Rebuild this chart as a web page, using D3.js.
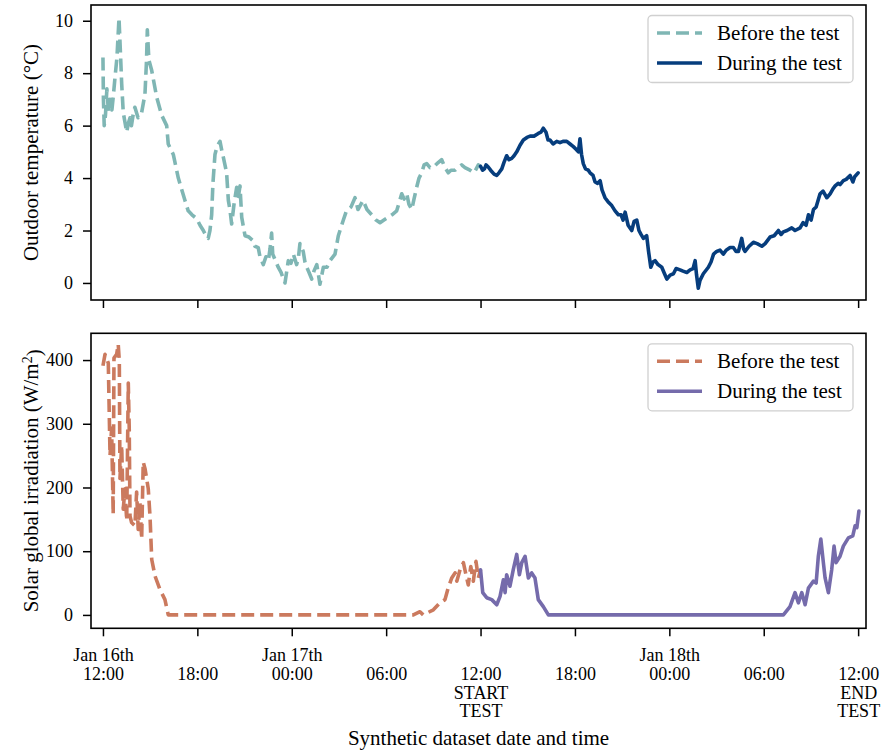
<!DOCTYPE html>
<html>
<head>
<meta charset="utf-8">
<script src="https://cdn.jsdelivr.net/npm/d3@7"></script>
<style>
  html, body { margin: 0; padding: 0; background: #fff; }
  text { font-family: "Liberation Serif", "Times New Roman", "DejaVu Serif", serif; fill: #000; }
</style>
</head>
<body>
<svg id="chart" width="883" height="754"></svg>
<script>
// ---------- DATA (hours since Jan 16th 12:00) ----------
const tempBeforeT = [0.00,0.03,0.08,0.16,0.25,0.35,0.45,0.57,0.67,0.76,0.89,1.02,1.11,1.19,1.29,1.51,1.62,1.72,1.81,1.94,2.03,2.23,2.46,2.67,2.77,2.82,2.92,3.10,3.41,3.73,4.05,4.15,4.47,4.79,5.21,5.42,5.66,5.96,6.17,6.38,6.55,6.69,6.80,6.91,6.99,7.12,7.25,7.44,7.57,7.65,7.86,7.97,8.07,8.18,8.33,8.50,8.61,8.71,8.82,9.03,9.28,9.56,9.66,9.87,9.98,10.19,10.36,10.51,10.62,10.72,10.79,10.93,11.14,11.32,11.57,11.78,11.95,12.10,12.31,12.43,12.52,12.73,12.84,12.95,13.10,13.27,13.41,13.59,13.70,13.79,14.01,14.24,14.43,14.75,14.96,15.28,15.45,15.58,15.77,16.02,16.21,16.53,16.78,17.08,17.36,17.61,17.86,18.12,18.37,18.67,18.99,19.14,19.31,19.45,19.63,19.77,19.94,20.09,20.26,20.41,20.58,20.79,21.00,21.23,21.53,21.74,21.95,22.12,22.38,22.57,22.80,23.01,23.33,23.59,23.86,24.00];
const tempBeforeV = [8.6,7.0,6.0,6.4,7.4,6.5,7.0,6.6,7.2,7.8,8.6,10.1,8.8,7.6,6.5,5.75,6.1,6.3,6.0,6.5,6.7,6.3,6.5,7.2,8.5,9.65,8.5,8.1,7.1,6.4,6.0,5.3,4.9,4.0,3.15,2.75,2.6,2.45,2.2,2.0,1.8,1.7,2.0,2.6,3.8,4.9,5.2,5.4,5.0,4.8,4.2,3.15,2.8,2.25,3.0,3.65,3.3,3.7,2.5,1.8,1.75,1.6,1.4,1.35,1.0,0.7,1.0,0.85,1.3,1.9,1.1,0.9,0.6,0.4,0.0,0.85,0.75,1.1,0.7,1.0,1.5,1.2,0.8,0.6,0.4,0.15,0.45,0.7,0.3,-0.05,0.6,0.6,0.85,1.1,1.8,2.4,2.7,2.8,2.9,3.25,2.8,3.15,2.8,2.6,2.4,2.3,2.4,2.5,2.6,2.75,3.4,3.2,3.4,3.0,2.8,3.2,3.65,4.0,4.2,4.5,4.55,4.4,4.4,4.55,4.7,4.4,4.2,4.3,4.3,4.4,4.5,4.4,4.3,4.2,4.5,4.45];

const tempDuringT = [24.00,24.13,24.25,24.35,24.45,24.64,24.86,25.03,25.17,25.35,25.49,25.66,25.81,25.98,26.13,26.30,26.51,26.72,26.95,27.15,27.40,27.67,27.84,27.99,28.16,28.29,28.42,28.61,28.84,29.05,29.24,29.48,29.69,29.90,30.07,30.22,30.32,30.42,30.53,30.67,30.85,30.96,31.15,31.28,31.44,31.60,31.72,31.91,32.10,32.34,32.55,32.76,32.93,33.06,33.19,33.38,33.61,33.76,33.93,34.07,34.20,34.35,34.56,34.68,34.82,34.96,35.09,35.28,35.52,35.66,35.84,36.05,36.26,36.43,36.68,36.87,37.11,37.32,37.51,37.64,37.73,37.84,37.95,38.16,38.48,38.65,38.81,39.01,39.22,39.43,39.61,39.86,40.07,40.24,40.39,40.60,40.72,40.81,41.07,41.34,41.58,41.88,42.09,42.40,42.66,42.93,43.10,43.25,43.48,43.78,43.99,44.31,44.50,44.69,44.84,45.01,45.16,45.33,45.58,45.77,46.01,46.22,46.41,46.54,46.73,46.85,47.06,47.24,47.49,47.67,47.78,48.00];
const tempDuringV = [4.45,4.3,4.35,4.5,4.45,4.3,4.15,4.1,4.2,4.35,4.6,4.85,4.7,4.75,4.85,5.0,5.25,5.45,5.55,5.6,5.6,5.7,5.75,5.9,5.75,5.45,5.45,5.3,5.4,5.35,5.4,5.4,5.3,5.2,5.1,5.0,5.5,4.9,4.55,4.35,4.3,4.2,4.1,3.85,3.8,3.9,3.55,3.25,3.1,2.95,2.75,2.6,2.6,2.4,2.7,2.2,2.0,2.35,2.4,2.0,1.85,1.7,1.8,1.2,0.6,0.8,0.85,0.7,0.6,0.4,0.15,0.3,0.35,0.55,0.5,0.45,0.4,0.5,0.55,0.85,0.3,-0.2,0.1,0.35,0.6,0.8,1.1,1.2,1.25,1.1,1.25,1.35,1.35,1.2,1.2,1.7,1.3,1.2,1.4,1.55,1.5,1.4,1.5,1.75,1.8,2.0,1.85,1.95,2.0,2.1,2.0,2.1,2.3,2.2,2.6,2.4,2.8,2.9,3.4,3.5,3.25,3.4,3.6,3.7,3.8,3.75,3.9,3.95,4.1,3.85,4.05,4.2];

const irrBeforeT = [0.00,0.13,0.34,0.45,0.55,0.65,0.70,0.87,0.97,1.04,1.08,1.19,1.29,1.40,1.51,1.61,1.67,1.72,1.82,2.03,2.14,2.24,2.35,2.46,2.56,2.67,2.88,2.99,3.10,3.31,3.62,3.94,4.15,19.73,20.15,20.36,21.00,21.42,21.74,21.95,22.17,22.38,22.49,22.70,22.91,23.12,23.22,23.38,23.54,23.71,23.86,24.00];
const irrBeforeV = [391,409,395,250,293,158,403,409,425,398,214,266,166,198,148,364,293,155,145,140,193,134,177,119,240,230,198,155,87,61,40,24,0,0,5,0,8,19,24,43,58,66,53,71,82,58,47,76,53,84,58,71];

const irrDuringT = [24.00,24.14,24.39,24.71,25.03,25.24,25.45,25.56,25.66,25.87,26.08,26.30,26.47,26.62,26.83,27.04,27.25,27.46,27.67,27.99,28.31,43.25,43.67,43.99,44.20,44.42,44.63,44.84,45.16,45.33,45.47,45.63,45.79,45.90,46.11,46.32,46.47,46.60,46.85,47.06,47.38,47.66,47.81,47.92,48.05];
const irrDuringV = [71,35,27,24,16,29,55,35,63,45,71,95,63,82,92,58,66,58,24,13,0,0,13,35,19,35,16,42,53,50,92,119,82,58,35,71,108,82,92,108,121,124,140,137,163];

const xTickHours = [0,6,12,18,24,30,36,42,48];
const xTickLabels = [["Jan 16th","12:00"],["","18:00"],["Jan 17th","00:00"],["","06:00"],["","12:00","START","TEST"],["","18:00"],["Jan 18th","00:00"],["","06:00"],["","12:00","END","TEST"]];
const tempTicks = [0,2,4,6,8,10];
const irrTicks = [0,100,200,300,400];
const legendLabels = ["Before the test","During the test"];

// ---------- LAYOUT ----------
const svg = d3.select("#chart");
const L = 91, R = 866;
const panels = [
  {top: 5, bottom: 300, domain: [-0.65, 10.6], ticks: tempTicks,
   series: [
     {t: tempBeforeT, v: tempBeforeV, color: "#7fb6b4", dash: "13,6"},
     {t: tempDuringT, v: tempDuringV, color: "#063d7d", dash: null}
   ]},
  {top: 333.3, bottom: 628.3, domain: [-21, 442], ticks: irrTicks,
   series: [
     {t: irrBeforeT, v: irrBeforeV, color: "#cb7a5e", dash: "13,6"},
     {t: irrDuringT, v: irrDuringV, color: "#756bab", dash: null}
   ]}
];

const x = d3.scaleLinear().domain([-0.76, 48.5]).range([L, R]);

panels.forEach((p, pi) => {
  const y = d3.scaleLinear().domain(p.domain).range([p.bottom, p.top]);
  const g = svg.append("g");

  // lines
  p.series.forEach(s => {
    const pts = s.t.map((t, i) => [t, s.v[i]]);
    const line = d3.line().x(d => x(d[0])).y(d => y(d[1]));
    g.append("path").datum(pts)
      .attr("d", line)
      .attr("fill", "none")
      .attr("stroke", s.color)
      .attr("stroke-width", 3.6)
      .attr("stroke-linejoin", "round")
      .attr("stroke-linecap", s.dash ? "butt" : "round")
      .attr("stroke-dasharray", s.dash);
  });

  // y axis
  const ya = g.append("g").attr("transform", `translate(${L},0)`)
    .call(d3.axisLeft(y).tickValues(p.ticks).tickSize(8).tickPadding(10).tickFormat(d3.format("d")));
  ya.select(".domain").remove();
  ya.selectAll(".tick line").attr("stroke", "#000").attr("stroke-width", 1.5);
  ya.selectAll(".tick text").attr("font-size", 18).attr("font-family", "Liberation Serif, serif");

  // x axis
  const xa = g.append("g").attr("transform", `translate(0,${p.bottom})`)
    .call(d3.axisBottom(x).tickValues(xTickHours).tickSize(8).tickFormat(""));
  xa.select(".domain").remove();
  xa.selectAll(".tick line").attr("stroke", "#000").attr("stroke-width", 1.5);
  if (pi === 1) {
    xa.selectAll(".tick text").remove();
    xa.selectAll(".tick").each(function(d, i) {
      const t = d3.select(this).append("text")
        .attr("text-anchor", "middle")
        .attr("font-size", 18)
        .attr("fill", "#000");
      xTickLabels[i].forEach((ln, k) => {
        if (ln === "") return;
        t.append("tspan").attr("x", 0).attr("y", 33.2 + k * 18.6).text(ln);
      });
    });
  }

  // frame
  g.append("rect").attr("x", L).attr("y", p.top)
    .attr("width", R - L).attr("height", p.bottom - p.top)
    .attr("fill", "none").attr("stroke", "#000").attr("stroke-width", 1.6);

  // legend
  const lgTop = p.top + 10.5;
  const lg = g.append("g");
  lg.append("rect").attr("x", 648).attr("y", lgTop).attr("width", 205).attr("height", 67)
    .attr("rx", 4).attr("fill", "#fff").attr("fill-opacity", 0.8)
    .attr("stroke", "#d0d0d0").attr("stroke-width", 1.3);
  p.series.forEach((s, i) => {
    const cy = lgTop + 17.5 + i * 30;
    lg.append("line").attr("x1", 657).attr("x2", 702).attr("y1", cy).attr("y2", cy)
      .attr("stroke", s.color).attr("stroke-width", 3.6)
      .attr("stroke-dasharray", s.dash);
    lg.append("text").attr("x", 717).attr("y", cy).attr("dy", "0.32em")
      .attr("font-size", 21).text(legendLabels[i]);
  });
});

// axis labels
svg.append("text").attr("transform", "translate(38,152.5) rotate(-90)")
  .attr("text-anchor", "middle").attr("font-size", 21).text("Outdoor temperature (°C)");
const yl2 = svg.append("text").attr("transform", "translate(38,480.8) rotate(-90)")
  .attr("text-anchor", "middle").attr("font-size", 21);
yl2.append("tspan").text("Solar global irradiation (W/m");
yl2.append("tspan").attr("dy", "-0.45em").attr("font-size", 14).text("2");
yl2.append("tspan").attr("dy", "0.45em").text(")");

svg.append("text").attr("x", 478.5).attr("y", 745)
  .attr("text-anchor", "middle").attr("font-size", 21).text("Synthetic dataset date and time");
</script>
</body>
</html>
